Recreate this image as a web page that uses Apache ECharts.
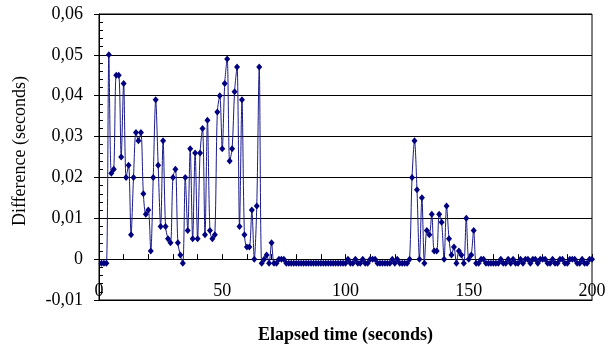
<!DOCTYPE html>
<html>
<head>
<meta charset="utf-8">
<script src="https://cdn.jsdelivr.net/npm/echarts@6/dist/echarts.min.js"></script>
<style>
  html, body { margin: 0; padding: 0; background: #fff; }
  #chart { width: 612px; height: 349px; }
</style>
</head>
<body>
<div id="chart"></div>
<script>
// readings are one per second, starting at 1 s
const firstSecond = 1
const stepSeconds = 1
const differences = [
  -0.001, -0.001, -0.001, 0.050, 0.021, 0.022, 0.045, 0.045, 0.025, 0.043,
  0.020, 0.023, 0.006, 0.020, 0.031, 0.029, 0.031, 0.016, 0.011, 0.012,
  0.002, 0.020, 0.039, 0.023, 0.008, 0.029, 0.008, 0.005, 0.004, 0.020,
  0.022, 0.004, 0.001, -0.001, 0.020, 0.007, 0.027, 0.005, 0.026, 0.005,
  0.026, 0.032, 0.006, 0.034, 0.007, 0.005, 0.006, 0.036, 0.040, 0.027,
  0.043, 0.049, 0.024, 0.027, 0.041, 0.047, 0.008, 0.039, 0.006, 0.003,
  0.003, 0.012, 0.000, 0.013, 0.047, -0.001, 0.000, 0.001, -0.001, 0.004,
  -0.001, -0.001, 0.000, 0.000, 0.000, -0.001, -0.001, -0.001, -0.001, -0.001,
  -0.001, -0.001, -0.001, -0.001, -0.001, -0.001, -0.001, -0.001, -0.001, -0.001,
  -0.001, -0.001, -0.001, -0.001, -0.001, -0.001, -0.001, -0.001, -0.001, -0.001,
  0.000, -0.001, -0.001, 0.000, -0.001, -0.001, 0.000, -0.001, -0.001, 0.000,
  0.000, 0.000, -0.001, -0.001, -0.001, -0.001, -0.001, -0.001, 0.000, -0.001,
  0.000, -0.001, -0.001, -0.001, -0.001, 0.000, 0.020, 0.029, 0.017, 0.000,
  0.015, -0.001, 0.007, 0.006, 0.011, 0.002, 0.002, 0.011, 0.009, 0.000,
  0.013, 0.005, 0.001, 0.003, -0.001, 0.002, 0.001, -0.001, 0.010, 0.000,
  0.001, 0.007, -0.001, -0.001, 0.000, 0.000, -0.001, -0.001, -0.001, -0.001,
  -0.001, -0.001, 0.000, -0.001, -0.001, 0.000, -0.001, 0.000, -0.001, -0.001,
  0.000, -0.001, 0.000, 0.000, -0.001, 0.000, 0.000, -0.001, 0.000, 0.000,
  0.000, -0.001, -0.001, 0.000, -0.001, -0.001, 0.000, 0.000, -0.001, -0.001,
  0.000, 0.000, 0.000, -0.001, -0.001, 0.000, -0.001, -0.001, 0.000, 0.000
]
const xTicks = [0, 50, 100, 150, 200]
const yTicks = [-0.01, 0, 0.01, 0.02, 0.03, 0.04, 0.05, 0.06]

const serif = 'Liberation Serif'
const points = differences.map((v, i) => [firstSecond + i * stepSeconds, v])

function yLabel(value) {
  if (Math.abs(value) < 1e-9) return '0'
  return value.toFixed(2).replace('.', ',')
}

const chart = echarts.init(document.getElementById('chart'), null, { renderer: 'canvas' })
chart.setOption({
  backgroundColor: '#fff',
  animation: false,
  grid: {
    left: 99,
    right: 20,
    top: 14,
    bottom: 49,
    show: true,
    borderColor: '#000',
    borderWidth: 1,
    containLabel: false,
    outerBoundsMode: 'none'
  },
  graphic: [{
    type: 'text',
    rotation: Math.PI / 2,
    x: 20,
    y: 151,
    style: {
      text: 'Difference (seconds)',
      font: '18px "Liberation Serif"',
      fill: '#000',
      align: 'center',
      verticalAlign: 'middle'
    }
  }],
  xAxis: [
    {
      type: 'value',
      min: xTicks[0],
      max: xTicks[xTicks.length - 1],
      interval: 50,
      name: 'Elapsed time (seconds)',
      nameLocation: 'middle',
      nameGap: 26,
      nameTextStyle: { fontFamily: serif, fontSize: 18, fontWeight: 'bold', color: '#000' },
      axisLine: { onZero: false, lineStyle: { color: '#000', width: 1 } },
      axisTick: { show: false },
      axisLabel: {
        inside: true,
        margin: 0,
        fontFamily: serif,
        fontSize: 18,
        color: '#000',
        showMinLabel: true,
        showMaxLabel: true
      },
      splitLine: { show: false }
    },
    {
      type: 'value',
      min: xTicks[0],
      max: xTicks[xTicks.length - 1],
      interval: 10,
      position: 'bottom',
      axisLine: { onZero: true, lineStyle: { color: '#000', width: 1 } },
      axisTick: { show: true, inside: true, length: 5, lineStyle: { color: '#000' } },
      axisLabel: { show: false },
      splitLine: { show: false }
    }
  ],
  yAxis: [
    {
      type: 'value',
      min: yTicks[0],
      max: yTicks[yTicks.length - 1],
      interval: 0.01,
      axisLine: { show: true, lineStyle: { color: '#000', width: 1 } },
      axisTick: { show: true, length: 5, lineStyle: { color: '#000' } },
      axisLabel: {
        margin: 16,
        fontFamily: serif,
        fontSize: 18,
        color: '#000',
        formatter: yLabel
      },
      splitLine: { show: true, lineStyle: { color: '#000', width: 1 } }
    },
    {
      // minor ticks point into the plot
      type: 'value',
      min: yTicks[0],
      max: yTicks[yTicks.length - 1],
      interval: 0.01,
      position: 'left',
      axisLine: { show: false },
      axisTick: { show: false, inside: true },
      minorTick: { show: true, splitNumber: 5, length: 4, lineStyle: { color: '#000' } },
      axisLabel: { show: false },
      splitLine: { show: false }
    }
  ],
  series: [
    {
      type: 'line',
      xAxisIndex: 0,
      yAxisIndex: 0,
      data: points,
      smooth: 0.3,
      symbol: 'diamond',
      symbolSize: [6, 7],
      showAllSymbol: true,
      lineStyle: { color: '#1a1a8c', width: 1 },
      itemStyle: { color: '#000080' },
      z: 5
    }
  ]
})
</script>
</body>
</html>
